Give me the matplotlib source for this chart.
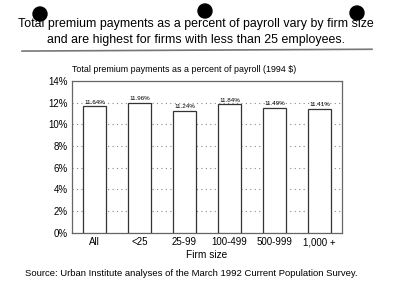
import matplotlib
matplotlib.use('Agg')

import matplotlib.pyplot as plt
from matplotlib.patches import Ellipse
from matplotlib.lines import Line2D
import matplotlib.ticker as ticker
import numpy as np

plt.rcParams['font.family'] = ['Liberation Sans', 'DejaVu Sans']

firm_sizes = ['All', '<25', '25-99', '100-499', '500-999', '1,000 +']
pct_payroll = [11.64, 11.96, 11.24, 11.84, 11.49, 11.41]
yticks = [0, 2, 4, 6, 8, 10, 12, 14]

fig = plt.figure(figsize=(4, 3.04), dpi=100)
fig.patch.set_facecolor('white')

ax = fig.add_axes([0.18, 0.234, 0.675, 0.5])
x = np.arange(len(firm_sizes))
bars = ax.bar(x, pct_payroll, width=0.51, color='white', edgecolor='#333333',
              linewidth=0.9, zorder=3)

for xi, v in zip(x, pct_payroll):
    ax.text(xi, v + 0.15, '%.2f%%' % v, ha='center', va='bottom', fontsize=4.5, zorder=4)

ax.set_xlim(-0.5, len(firm_sizes) - 0.5)
ax.set_ylim(0, 14)
ax.set_yticks(yticks)
ax.yaxis.set_major_formatter(ticker.FuncFormatter(lambda v, p: '%d%%' % v))
ax.set_xticks(x)
ax.set_xticklabels(firm_sizes)
ax.tick_params(axis='both', length=0, labelsize=7, pad=3)
ax.tick_params(axis='x', pad=3)
ax.grid(axis='y', linestyle=(0, (1, 3)), color='#888888', linewidth=0.8, zorder=0)
for s in ax.spines.values():
    s.set_color('#666666')
    s.set_linewidth(0.9)
ax.set_xlabel('Firm size', fontsize=7.3, labelpad=2)

fig.text(0.18, 0.756, 'Total premium payments as a percent of payroll (1994 $)',
         fontsize=6.4, ha='left', va='bottom')

fig.text(0.49, 0.922, 'Total premium payments as a percent of payroll vary by firm size',
         fontsize=8.9, ha='center', va='center')
fig.text(0.49, 0.87, 'and are highest for firms with less than 25 employees.',
         fontsize=8.9, ha='center', va='center')
fig.add_artist(Line2D([0.055, 0.93], [0.832, 0.838], color='#777777', linewidth=1.2))

fig.text(0.063, 0.1, 'Source: Urban Institute analyses of the March 1992 Current Population Survey.',
         fontsize=6.8, ha='left', va='center')

# hole punch marks from the scan
for cx, cy in [(40, 14), (205, 11), (357, 13)]:
    fig.add_artist(Ellipse((cx / 400, 1 - cy / 304), 14 / 400, 14 / 304,
                           color='black', zorder=10))

plt.savefig('out.png', dpi=100)
